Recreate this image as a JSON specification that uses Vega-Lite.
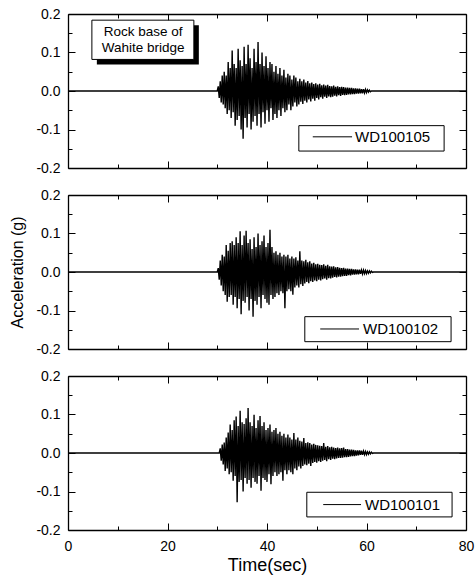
{
"$schema":"https://vega.github.io/schema/vega-lite/v6.json",
"background":"white",
"padding":{"left":9,"top":7,"right":5,"bottom":5},
"spacing":13,
"config":{"view":{"stroke":null},"font":"Liberation Sans","axis":{"grid":false,"domainColor":"#000","domainWidth":1.3,"tickColor":"#000","tickWidth":1,"labelColor":"#000","labelFont":"Liberation Sans","labelFontSize":14,"titleFont":"Liberation Sans","titleColor":"#000","titleFontWeight":"normal","labelFlush":false}},
"datasets":{
"A":[{"t":0,"a":0},{"t":30,"a":0},
{"t":30.2,"a":0.012},{"t":30.4,"a":-0.018},{"t":30.6,"a":0.025},{"t":30.8,"a":-0.03},{"t":31.0,"a":0.04},{"t":31.2,"a":-0.035},{"t":31.4,"a":0.05},{"t":31.6,"a":-0.045},{"t":31.8,"a":0.04},{"t":32.0,"a":-0.06},
{"t":32.2,"a":0.075},{"t":32.4,"a":-0.05},{"t":32.6,"a":0.06},{"t":32.8,"a":-0.07},{"t":33.0,"a":0.105},{"t":33.2,"a":-0.055},{"t":33.4,"a":0.07},{"t":33.6,"a":-0.09},{"t":33.8,"a":0.06},{"t":34.0,"a":-0.075},
{"t":34.2,"a":0.11},{"t":34.4,"a":-0.065},{"t":34.6,"a":0.08},{"t":34.8,"a":-0.1},{"t":35.0,"a":0.065},{"t":35.2,"a":-0.124},{"t":35.4,"a":0.115},{"t":35.6,"a":-0.07},{"t":35.8,"a":0.07},{"t":36.0,"a":-0.095},
{"t":36.2,"a":0.12},{"t":36.4,"a":-0.06},{"t":36.6,"a":0.085},{"t":36.8,"a":-0.1},{"t":37.0,"a":0.06},{"t":37.2,"a":-0.08},{"t":37.4,"a":0.11},{"t":37.6,"a":-0.065},{"t":37.8,"a":0.075},{"t":38.0,"a":-0.09},
{"t":38.2,"a":0.127},{"t":38.4,"a":-0.06},{"t":38.6,"a":0.07},{"t":38.8,"a":-0.095},{"t":39.0,"a":0.1},{"t":39.2,"a":-0.055},{"t":39.4,"a":0.065},{"t":39.6,"a":-0.085},{"t":39.8,"a":0.09},{"t":40.0,"a":-0.05},
{"t":40.2,"a":0.06},{"t":40.4,"a":-0.08},{"t":40.6,"a":0.075},{"t":40.8,"a":-0.045},{"t":41.0,"a":0.07},{"t":41.2,"a":-0.075},{"t":41.4,"a":0.05},{"t":41.6,"a":-0.06},{"t":41.8,"a":0.065},{"t":42.0,"a":-0.07},
{"t":42.2,"a":0.045},{"t":42.4,"a":-0.05},{"t":42.6,"a":0.06},{"t":42.8,"a":-0.065},{"t":43.0,"a":0.04},{"t":43.2,"a":-0.045},{"t":43.4,"a":0.055},{"t":43.6,"a":-0.055},{"t":43.8,"a":0.035},{"t":44.0,"a":-0.05},
{"t":44.2,"a":0.045},{"t":44.4,"a":-0.035},{"t":44.6,"a":0.04},{"t":44.8,"a":-0.05},{"t":45.0,"a":0.03},{"t":45.2,"a":-0.04},{"t":45.4,"a":0.04},{"t":45.6,"a":-0.03},{"t":45.8,"a":0.035},{"t":46.0,"a":-0.04},
{"t":46.2,"a":0.025},{"t":46.4,"a":-0.035},{"t":46.6,"a":0.032},{"t":46.8,"a":-0.028},{"t":47.0,"a":0.025},{"t":47.2,"a":-0.034},{"t":47.4,"a":0.03},{"t":47.6,"a":-0.025},{"t":47.8,"a":0.022},{"t":48.0,"a":-0.03},
{"t":48.2,"a":0.026},{"t":48.4,"a":-0.022},{"t":48.6,"a":0.02},{"t":48.8,"a":-0.027},{"t":49.0,"a":0.022},{"t":49.2,"a":-0.02},{"t":49.4,"a":0.018},{"t":49.6,"a":-0.025},{"t":49.8,"a":0.02},{"t":50.0,"a":-0.018},
{"t":50.2,"a":0.017},{"t":50.4,"a":-0.022},{"t":50.6,"a":0.019},{"t":50.8,"a":-0.016},{"t":51.0,"a":0.015},{"t":51.2,"a":-0.02},{"t":51.4,"a":0.017},{"t":51.6,"a":-0.015},{"t":51.8,"a":0.014},{"t":52.0,"a":-0.018},
{"t":52.2,"a":0.016},{"t":52.4,"a":-0.014},{"t":52.6,"a":0.013},{"t":52.8,"a":-0.016},{"t":53.0,"a":0.012},{"t":53.2,"a":-0.015},{"t":53.4,"a":0.014},{"t":53.6,"a":-0.012},{"t":53.8,"a":0.011},{"t":54.0,"a":-0.014},
{"t":54.2,"a":0.012},{"t":54.4,"a":-0.011},{"t":54.6,"a":0.01},{"t":54.8,"a":-0.013},{"t":55.0,"a":0.011},{"t":55.2,"a":-0.01},{"t":55.4,"a":0.01},{"t":55.6,"a":-0.011},{"t":55.8,"a":0.009},{"t":56.0,"a":-0.01},
{"t":56.2,"a":0.009},{"t":56.4,"a":-0.009},{"t":56.6,"a":0.008},{"t":56.8,"a":-0.009},{"t":57.0,"a":0.008},{"t":57.2,"a":-0.008},{"t":57.4,"a":0.007},{"t":57.6,"a":-0.008},{"t":57.8,"a":0.007},{"t":58.0,"a":-0.007},
{"t":58.2,"a":0.006},{"t":58.4,"a":-0.007},{"t":58.6,"a":0.006},{"t":58.8,"a":-0.006},{"t":59.0,"a":0.005},{"t":59.2,"a":-0.006},{"t":59.4,"a":0.005},{"t":59.6,"a":-0.005},{"t":59.8,"a":0.004},{"t":60.0,"a":-0.004},
{"t":60.2,"a":0.003},{"t":60.4,"a":-0.003},{"t":60.6,"a":0.002},{"t":60.8,"a":-0.002},{"t":61.0,"a":0},{"t":80,"a":0}],
"B":[{"t":0,"a":0},{"t":30,"a":0},
{"t":30.2,"a":0.01},{"t":30.4,"a":-0.02},{"t":30.6,"a":0.03},{"t":30.8,"a":-0.035},{"t":31.0,"a":0.045},{"t":31.2,"a":-0.05},{"t":31.4,"a":0.04},{"t":31.6,"a":-0.06},{"t":31.8,"a":0.07},{"t":32.0,"a":-0.077},
{"t":32.2,"a":0.055},{"t":32.4,"a":-0.065},{"t":32.6,"a":0.075},{"t":32.8,"a":-0.06},{"t":33.0,"a":0.08},{"t":33.2,"a":-0.085},{"t":33.4,"a":0.07},{"t":33.6,"a":-0.065},{"t":33.8,"a":0.09},{"t":34.0,"a":-0.094},
{"t":34.2,"a":0.075},{"t":34.4,"a":-0.07},{"t":34.6,"a":0.106},{"t":34.8,"a":-0.11},{"t":35.0,"a":0.07},{"t":35.2,"a":-0.075},{"t":35.4,"a":0.095},{"t":35.6,"a":-0.08},{"t":35.8,"a":0.107},{"t":36.0,"a":-0.065},
{"t":36.2,"a":0.075},{"t":36.4,"a":-0.1},{"t":36.6,"a":0.085},{"t":36.8,"a":-0.07},{"t":37.0,"a":0.06},{"t":37.2,"a":-0.116},{"t":37.4,"a":0.09},{"t":37.6,"a":-0.075},{"t":37.8,"a":0.065},{"t":38.0,"a":-0.085},
{"t":38.2,"a":0.1},{"t":38.4,"a":-0.065},{"t":38.6,"a":0.07},{"t":38.8,"a":-0.094},{"t":39.0,"a":0.08},{"t":39.2,"a":-0.06},{"t":39.4,"a":0.095},{"t":39.6,"a":-0.07},{"t":39.8,"a":0.065},{"t":40.0,"a":-0.08},
{"t":40.2,"a":0.075},{"t":40.4,"a":-0.085},{"t":40.6,"a":0.11},{"t":40.8,"a":-0.06},{"t":41.0,"a":0.065},{"t":41.2,"a":-0.07},{"t":41.4,"a":0.05},{"t":41.6,"a":-0.065},{"t":41.8,"a":0.054},{"t":42.0,"a":-0.055},
{"t":42.2,"a":0.045},{"t":42.4,"a":-0.06},{"t":42.6,"a":0.05},{"t":42.8,"a":-0.05},{"t":43.0,"a":0.04},{"t":43.2,"a":-0.055},{"t":43.4,"a":0.045},{"t":43.6,"a":-0.094},{"t":43.8,"a":0.04},{"t":44.0,"a":-0.05},
{"t":44.2,"a":0.045},{"t":44.4,"a":-0.045},{"t":44.6,"a":0.035},{"t":44.8,"a":-0.05},{"t":45.0,"a":0.04},{"t":45.2,"a":-0.059},{"t":45.4,"a":0.035},{"t":45.6,"a":-0.04},{"t":45.8,"a":0.038},{"t":46.0,"a":-0.035},
{"t":46.2,"a":0.03},{"t":46.4,"a":-0.04},{"t":46.6,"a":0.054},{"t":46.8,"a":-0.032},{"t":47.0,"a":0.03},{"t":47.2,"a":-0.036},{"t":47.4,"a":0.028},{"t":47.6,"a":-0.03},{"t":47.8,"a":0.032},{"t":48.0,"a":-0.026},
{"t":48.2,"a":0.025},{"t":48.4,"a":-0.029},{"t":48.6,"a":0.028},{"t":48.8,"a":-0.024},{"t":49.0,"a":0.022},{"t":49.2,"a":-0.026},{"t":49.4,"a":0.024},{"t":49.6,"a":-0.022},{"t":49.8,"a":0.02},{"t":50.0,"a":-0.024},
{"t":50.2,"a":0.021},{"t":50.4,"a":-0.02},{"t":50.6,"a":0.019},{"t":50.8,"a":-0.022},{"t":51.0,"a":0.018},{"t":51.2,"a":-0.019},{"t":51.4,"a":0.02},{"t":51.6,"a":-0.017},{"t":51.8,"a":0.016},{"t":52.0,"a":-0.02},
{"t":52.2,"a":0.019},{"t":52.4,"a":-0.016},{"t":52.6,"a":0.015},{"t":52.8,"a":-0.017},{"t":53.0,"a":0.014},{"t":53.2,"a":-0.015},{"t":53.4,"a":0.015},{"t":53.6,"a":-0.013},{"t":53.8,"a":0.012},{"t":54.0,"a":-0.014},
{"t":54.2,"a":0.013},{"t":54.4,"a":-0.012},{"t":54.6,"a":0.011},{"t":54.8,"a":-0.012},{"t":55.0,"a":0.01},{"t":55.2,"a":-0.011},{"t":55.4,"a":0.011},{"t":55.6,"a":-0.01},{"t":55.8,"a":0.009},{"t":56.0,"a":-0.01},
{"t":56.2,"a":0.009},{"t":56.4,"a":-0.008},{"t":56.6,"a":0.008},{"t":56.8,"a":-0.009},{"t":57.0,"a":0.008},{"t":57.2,"a":-0.007},{"t":57.4,"a":0.007},{"t":57.6,"a":-0.007},{"t":57.8,"a":0.007},{"t":58.0,"a":-0.006},
{"t":58.2,"a":0.006},{"t":58.4,"a":-0.006},{"t":58.6,"a":0.006},{"t":58.8,"a":-0.005},{"t":59.0,"a":0.005},{"t":59.2,"a":-0.005},{"t":59.4,"a":0.005},{"t":59.6,"a":-0.004},{"t":59.8,"a":0.004},{"t":60.0,"a":-0.004},
{"t":60.2,"a":0.003},{"t":60.4,"a":-0.003},{"t":60.6,"a":0.003},{"t":60.8,"a":-0.002},{"t":61.0,"a":0.002},{"t":61.2,"a":-0.001},{"t":61.4,"a":0},{"t":80,"a":0}],
"C":[{"t":0,"a":0},{"t":30.4,"a":0},
{"t":30.6,"a":0.012},{"t":30.8,"a":-0.02},{"t":31.0,"a":0.022},{"t":31.2,"a":-0.03},{"t":31.4,"a":0.027},{"t":31.6,"a":-0.047},{"t":31.8,"a":0.04},{"t":32.0,"a":-0.04},
{"t":32.2,"a":0.053},{"t":32.4,"a":-0.055},{"t":32.6,"a":0.074},{"t":32.8,"a":-0.05},{"t":33.0,"a":0.06},{"t":33.2,"a":-0.072},{"t":33.4,"a":0.085},{"t":33.6,"a":-0.06},{"t":33.8,"a":0.095},{"t":34.0,"a":-0.128},
{"t":34.2,"a":0.07},{"t":34.4,"a":-0.075},{"t":34.6,"a":0.11},{"t":34.8,"a":-0.07},{"t":35.0,"a":0.08},{"t":35.2,"a":-0.1},{"t":35.4,"a":0.075},{"t":35.6,"a":-0.065},{"t":35.8,"a":0.09},{"t":36.0,"a":-0.08},
{"t":36.2,"a":0.117},{"t":36.4,"a":-0.07},{"t":36.6,"a":0.08},{"t":36.8,"a":-0.09},{"t":37.0,"a":0.07},{"t":37.2,"a":-0.065},{"t":37.4,"a":0.099},{"t":37.6,"a":-0.075},{"t":37.8,"a":0.065},{"t":38.0,"a":-0.08},
{"t":38.2,"a":0.085},{"t":38.4,"a":-0.06},{"t":38.6,"a":0.096},{"t":38.8,"a":-0.098},{"t":39.0,"a":0.07},{"t":39.2,"a":-0.065},{"t":39.4,"a":0.08},{"t":39.6,"a":-0.07},{"t":39.8,"a":0.06},{"t":40.0,"a":-0.075},
{"t":40.2,"a":0.065},{"t":40.4,"a":-0.055},{"t":40.6,"a":0.074},{"t":40.8,"a":-0.081},{"t":41.0,"a":0.055},{"t":41.2,"a":-0.06},{"t":41.4,"a":0.06},{"t":41.6,"a":-0.05},{"t":41.8,"a":0.065},{"t":42.0,"a":-0.06},
{"t":42.2,"a":0.05},{"t":42.4,"a":-0.055},{"t":42.6,"a":0.055},{"t":42.8,"a":-0.05},{"t":43.0,"a":0.045},{"t":43.2,"a":-0.072},{"t":43.4,"a":0.05},{"t":43.6,"a":-0.045},{"t":43.8,"a":0.04},{"t":44.0,"a":-0.055},
{"t":44.2,"a":0.048},{"t":44.4,"a":-0.045},{"t":44.6,"a":0.04},{"t":44.8,"a":-0.05},{"t":45.0,"a":0.035},{"t":45.2,"a":-0.055},{"t":45.4,"a":0.052},{"t":45.6,"a":-0.04},{"t":45.8,"a":0.035},{"t":46.0,"a":-0.045},
{"t":46.2,"a":0.04},{"t":46.4,"a":-0.035},{"t":46.6,"a":0.032},{"t":46.8,"a":-0.04},{"t":47.0,"a":0.03},{"t":47.2,"a":-0.034},{"t":47.4,"a":0.039},{"t":47.6,"a":-0.03},{"t":47.8,"a":0.026},{"t":48.0,"a":-0.032},
{"t":48.2,"a":0.028},{"t":48.4,"a":-0.028},{"t":48.6,"a":0.026},{"t":48.8,"a":-0.034},{"t":49.0,"a":0.022},{"t":49.2,"a":-0.026},{"t":49.4,"a":0.024},{"t":49.6,"a":-0.023},{"t":49.8,"a":0.021},{"t":50.0,"a":-0.025},
{"t":50.2,"a":0.02},{"t":50.4,"a":-0.021},{"t":50.6,"a":0.019},{"t":50.8,"a":-0.023},{"t":51.0,"a":0.018},{"t":51.2,"a":-0.02},{"t":51.4,"a":0.026},{"t":51.6,"a":-0.018},{"t":51.8,"a":0.016},{"t":52.0,"a":-0.021},
{"t":52.2,"a":0.018},{"t":52.4,"a":-0.016},{"t":52.6,"a":0.015},{"t":52.8,"a":-0.018},{"t":53.0,"a":0.016},{"t":53.2,"a":-0.015},{"t":53.4,"a":0.014},{"t":53.6,"a":-0.016},{"t":53.8,"a":0.013},{"t":54.0,"a":-0.014},
{"t":54.2,"a":0.014},{"t":54.4,"a":-0.013},{"t":54.6,"a":0.012},{"t":54.8,"a":-0.013},{"t":55.0,"a":0.013},{"t":55.2,"a":-0.012},{"t":55.4,"a":0.014},{"t":55.6,"a":-0.011},{"t":55.8,"a":0.01},{"t":56.0,"a":-0.011},
{"t":56.2,"a":0.01},{"t":56.4,"a":-0.01},{"t":56.6,"a":0.009},{"t":56.8,"a":-0.009},{"t":57.0,"a":0.009},{"t":57.2,"a":-0.008},{"t":57.4,"a":0.008},{"t":57.6,"a":-0.008},{"t":57.8,"a":0.007},{"t":58.0,"a":-0.007},
{"t":58.2,"a":0.007},{"t":58.4,"a":-0.006},{"t":58.6,"a":0.007},{"t":58.8,"a":-0.005},{"t":59.0,"a":0.006},{"t":59.2,"a":-0.005},{"t":59.4,"a":0.005},{"t":59.6,"a":-0.004},{"t":59.8,"a":0.004},{"t":60.0,"a":-0.004},
{"t":60.2,"a":0.003},{"t":60.4,"a":-0.003},{"t":60.6,"a":0.003},{"t":60.8,"a":-0.002},{"t":61.0,"a":0.002},{"t":61.2,"a":-0.001},{"t":61.4,"a":0},{"t":80,"a":0}]
},
"vconcat":[
{"width":398,"height":154,
"resolve":{"axis":{"x":"independent","y":"independent"}},
"layer":[
{"data":{"name":"A"},"mark":{"type":"line","color":"black","strokeWidth":1.4},
"encoding":{"x":{"field":"t","type":"quantitative","scale":{"domain":[0,80]},"axis":{"orient":"bottom","values":[0,10,20,30,40,50,60,70,80],"tickSize":{"condition":{"test":"datum.value % 20 === 0","value":-7},"value":-4},"labels":false,"title":null}},
"y":{"field":"a","type":"quantitative","scale":{"domain":[-0.2,0.2]},"axis":{"orient":"left","values":[-0.2,-0.15,-0.1,-0.05,0,0.05,0.1,0.15,0.2],"tickSize":{"condition":{"test":"abs(datum.value*10-round(datum.value*10))<0.000001","value":-7},"value":-4},"format":".1f","labelExpr":"abs(datum.value*10-round(datum.value*10))<0.000001 ? replace(datum.label,'\u2212','-') : ''","labelPadding":15,"title":null}}}},
{"data":{"values":[{}]},"mark":{"type":"rect","fill":"white","stroke":"black","strokeWidth":1},
"encoding":{"x":{"datum":46.4,"scale":{"domain":[0,80]},"axis":{"orient":"top","values":[0,10,20,30,40,50,60,70,80],"tickSize":{"condition":{"test":"datum.value % 20 === 0","value":-7},"value":-4},"labels":false,"title":null}},"x2":{"datum":75.6},
"y":{"datum":-0.09,"scale":{"domain":[-0.2,0.2]},"axis":{"orient":"right","values":[-0.2,-0.15,-0.1,-0.05,0,0.05,0.1,0.15,0.2],"tickSize":{"condition":{"test":"abs(datum.value*10-round(datum.value*10))<0.000001","value":-7},"value":-4},"labels":false,"title":null}},"y2":{"datum":-0.156}}},
{"data":{"values":[{}]},"mark":{"type":"rule","color":"black","strokeWidth":1},
"encoding":{"x":{"datum":49.2,"axis":null},"x2":{"datum":57.1},"y":{"datum":-0.119,"axis":null}}},
{"data":{"values":[{"label":"WD100105"}]},"mark":{"type":"text","align":"left","baseline":"middle","fontSize":15,"font":"Liberation Sans","color":"black"},
"encoding":{"x":{"datum":57.7,"axis":null},"y":{"datum":-0.119,"axis":null},"text":{"field":"label"}}},
{"data":{"values":[{}]},"mark":{"type":"rect","fill":"black"},
"encoding":{"x":{"datum":5.8,"axis":null},"x2":{"datum":26.3},"y":{"datum":0.171,"axis":null},"y2":{"datum":0.069}}},
{"data":{"values":[{}]},"mark":{"type":"rect","fill":"white","stroke":"black","strokeWidth":1},
"encoding":{"x":{"datum":4.8,"axis":null},"x2":{"datum":25.3},"y":{"datum":0.184,"axis":null},"y2":{"datum":0.082}}},
{"data":{"values":[{}]},"mark":{"type":"text","align":"center","baseline":"middle","fontSize":13.5,"lineHeight":16,"font":"Liberation Sans","color":"black"},
"encoding":{"x":{"datum":15.1,"axis":null},"y":{"datum":0.153,"axis":null},"text":{"value":["Rock base of","Wahite bridge"]}}}
]},
{"width":398,"height":154,
"resolve":{"axis":{"x":"independent","y":"independent"}},
"layer":[
{"data":{"name":"B"},"mark":{"type":"line","color":"black","strokeWidth":1.4},
"encoding":{"x":{"field":"t","type":"quantitative","scale":{"domain":[0,80]},"axis":{"orient":"bottom","values":[0,10,20,30,40,50,60,70,80],"tickSize":{"condition":{"test":"datum.value % 20 === 0","value":-7},"value":-4},"labels":false,"title":null}},
"y":{"field":"a","type":"quantitative","scale":{"domain":[-0.2,0.2]},"axis":{"orient":"left","values":[-0.2,-0.15,-0.1,-0.05,0,0.05,0.1,0.15,0.2],"tickSize":{"condition":{"test":"abs(datum.value*10-round(datum.value*10))<0.000001","value":-7},"value":-4},"format":".1f","labelExpr":"abs(datum.value*10-round(datum.value*10))<0.000001 ? replace(datum.label,'\u2212','-') : ''","labelPadding":15,"title":"Acceleration (g)","titleFontSize":16,"titlePadding":10}}}},
{"data":{"values":[{}]},"mark":{"type":"rect","fill":"white","stroke":"black","strokeWidth":1},
"encoding":{"x":{"datum":47.6,"scale":{"domain":[0,80]},"axis":{"orient":"top","values":[0,10,20,30,40,50,60,70,80],"tickSize":{"condition":{"test":"datum.value % 20 === 0","value":-7},"value":-4},"labels":false,"title":null}},"x2":{"datum":77.0},
"y":{"datum":-0.116,"scale":{"domain":[-0.2,0.2]},"axis":{"orient":"right","values":[-0.2,-0.15,-0.1,-0.05,0,0.05,0.1,0.15,0.2],"tickSize":{"condition":{"test":"abs(datum.value*10-round(datum.value*10))<0.000001","value":-7},"value":-4},"labels":false,"title":null}},"y2":{"datum":-0.181}}},
{"data":{"values":[{}]},"mark":{"type":"rule","color":"black","strokeWidth":1},
"encoding":{"x":{"datum":50.7,"axis":null},"x2":{"datum":58.5},"y":{"datum":-0.148,"axis":null}}},
{"data":{"values":[{"label":"WD100102"}]},"mark":{"type":"text","align":"left","baseline":"middle","fontSize":15,"font":"Liberation Sans","color":"black"},
"encoding":{"x":{"datum":59.3,"axis":null},"y":{"datum":-0.148,"axis":null},"text":{"field":"label"}}}
]},
{"width":398,"height":154,
"resolve":{"axis":{"x":"independent","y":"independent"}},
"layer":[
{"data":{"name":"C"},"mark":{"type":"line","color":"black","strokeWidth":1.4},
"encoding":{"x":{"field":"t","type":"quantitative","scale":{"domain":[0,80]},"axis":{"orient":"bottom","values":[0,10,20,30,40,50,60,70,80],"tickSize":{"condition":{"test":"datum.value % 20 === 0","value":-7},"value":-4},"labelExpr":"datum.value % 20 === 0 ? datum.label : ''","labelPadding":16,"title":"Time(sec)","titleFontSize":18,"titlePadding":3}},
"y":{"field":"a","type":"quantitative","scale":{"domain":[-0.2,0.2]},"axis":{"orient":"left","values":[-0.2,-0.15,-0.1,-0.05,0,0.05,0.1,0.15,0.2],"tickSize":{"condition":{"test":"abs(datum.value*10-round(datum.value*10))<0.000001","value":-7},"value":-4},"format":".1f","labelExpr":"abs(datum.value*10-round(datum.value*10))<0.000001 ? replace(datum.label,'\u2212','-') : ''","labelPadding":15,"title":null}}}},
{"data":{"values":[{}]},"mark":{"type":"rect","fill":"white","stroke":"black","strokeWidth":1},
"encoding":{"x":{"datum":48.0,"scale":{"domain":[0,80]},"axis":{"orient":"top","values":[0,10,20,30,40,50,60,70,80],"tickSize":{"condition":{"test":"datum.value % 20 === 0","value":-7},"value":-4},"labels":false,"title":null}},"x2":{"datum":77.2},
"y":{"datum":-0.102,"scale":{"domain":[-0.2,0.2]},"axis":{"orient":"right","values":[-0.2,-0.15,-0.1,-0.05,0,0.05,0.1,0.15,0.2],"tickSize":{"condition":{"test":"abs(datum.value*10-round(datum.value*10))<0.000001","value":-7},"value":-4},"labels":false,"title":null}},"y2":{"datum":-0.166}}},
{"data":{"values":[{}]},"mark":{"type":"rule","color":"black","strokeWidth":1},
"encoding":{"x":{"datum":51.3,"axis":null},"x2":{"datum":58.9},"y":{"datum":-0.134,"axis":null}}},
{"data":{"values":[{"label":"WD100101"}]},"mark":{"type":"text","align":"left","baseline":"middle","fontSize":15,"font":"Liberation Sans","color":"black"},
"encoding":{"x":{"datum":59.7,"axis":null},"y":{"datum":-0.134,"axis":null},"text":{"field":"label"}}}
]}
]
}
